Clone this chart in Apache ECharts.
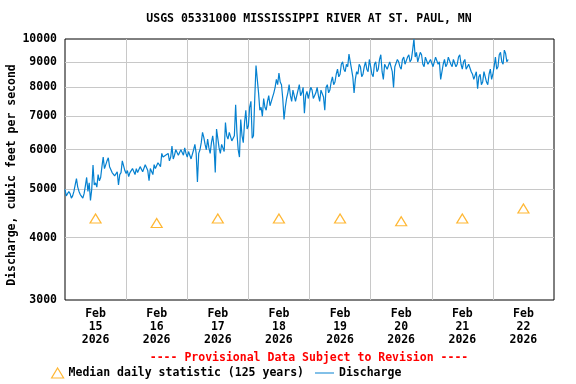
<!DOCTYPE html>
<html><head><meta charset="utf-8">
<script src="https://cdn.jsdelivr.net/npm/echarts@6/dist/echarts.min.js"></script>
<style>html,body{margin:0;padding:0;background:#fff}#c{width:576px;height:384px}</style>
</head><body><div id="c"></div>
<script>
const chartTitle = 'USGS 05331000 MISSISSIPPI RIVER AT ST. PAUL, MN';
const provisionalNote = '---- Provisional Data Subject to Revision ----';
const yAxisName = 'Discharge, cubic feet per second';
const medianName = 'Median daily statistic (125 years)';
const dischargeName = 'Discharge';
const dayMonth = 'Feb';
const dayNumbers = ['15', '16', '17', '18', '19', '20', '21', '22'];
const dayYear = '2026';
// x in hours since 2026-02-15 00:00
const xRangeHours = [0, 192];
const dayGridHours = [24, 48, 72, 96, 120, 144, 168];
const dayLabelHours = [12, 36, 60, 84, 108, 132, 156, 180];
const yRange = [3000, 10000];
const yLabelValues = [3000, 4000, 5000, 6000, 7000, 8000, 9000, 10000];
const yGridValues = [4000, 5000, 6000, 7000, 8000, 9000];
const medianHours = [12, 36, 60, 84, 108, 132, 156, 180];
const medianValues = [4370, 4280, 4370, 4370, 4370, 4315, 4370, 4575];
const dischargeStepHours = 0.5;
const dischargeValues = [
  // Feb 15
  5000, 4850, 4820, 4950, 4900, 4800, 4850, 4950,
  5100, 5250, 5050, 4950, 4880, 4920, 4800, 4900,
  5080, 5280, 4950, 5150, 4750, 5000, 5590, 5100,
  5150, 5050, 5350, 5200, 5280, 5550, 5800, 5500,
  5550, 5700, 5780, 5550, 5500, 5400, 5380, 5320,
  5300, 5420, 5100, 5350, 5400, 5700, 5650, 5450,
  // Feb 16
  5380, 5450, 5300, 5400, 5400, 5500, 5450, 5350,
  5500, 5400, 5380, 5550, 5550, 5420, 5450, 5600,
  5600, 5450, 5200, 5500, 5450, 5350, 5600, 5500,
  5450, 5650, 5650, 5550, 5900, 5800, 5750, 5850,
  5800, 5900, 5700, 5800, 6100, 5750, 5850, 6000,
  6050, 5850, 5800, 6000, 5950, 5850, 6050, 5900,
  // Feb 17
  5800, 5950, 5950, 5750, 5750, 6000, 6150, 5900,
  5170, 5900, 6000, 6200, 6500, 6350, 6150, 6000,
  6300, 6050, 5900, 6200, 6400, 6100, 5400, 6600,
  6550, 6050, 5900, 6150, 6200, 5950, 6800, 6400,
  6300, 6500, 6500, 6250, 6250, 6400, 7380, 6500,
  6000, 5800, 6900, 6400, 6200, 6800, 7200, 6600,
  // Feb 18
  6700, 7300, 7500, 6330, 6400, 7600, 8850, 8300,
  7800, 7200, 7300, 7000, 7600, 7300, 7200, 7500,
  7700, 7350, 7400, 7650, 7800, 8000, 8300, 8100,
  8550, 8200, 8100, 7600, 6900, 7300, 7600, 7800,
  8100, 7700, 7500, 7900, 7900, 7500, 7700, 7900,
  8100, 7700, 7800, 8000, 7100, 7700, 7850, 7600,
  // Feb 19
  7650, 8000, 7900, 7600, 7600, 7800, 8000, 7700,
  7500, 7900, 7900, 7650, 7200, 8000, 8100, 7800,
  7900, 8200, 8400, 8100, 8200, 8500, 8700, 8400,
  8500, 8900, 9000, 8700, 8600, 8900, 8800, 9330,
  9000, 8700, 8400, 7800, 8300, 8600, 8500, 8900,
  8800, 8400, 8500, 8800, 9000, 8700, 8600, 9100,
  // Feb 20
  8800, 8500, 8400, 8900, 9000, 8600, 8700, 9100,
  9300, 8600, 8300, 8900, 8900, 8700, 8700, 9000,
  9000, 8600, 8000, 8800, 8800, 9100, 9000, 8800,
  8700, 9100, 9200, 8900, 8900, 9200, 9300, 9000,
  9100, 9500, 10000, 9200, 9400, 9000, 9000, 9400,
  9300, 8900, 8800, 9200, 9200, 8900, 8900, 9100,
  // Feb 21
  9100, 8800, 8800, 9200, 9200, 8900, 9000, 8300,
  8300, 8900, 9100, 8800, 8900, 9200, 9200, 8900,
  8800, 9100, 9100, 8800, 8900, 9200, 9300, 8900,
  8700, 9000, 9100, 8700, 8700, 8900, 8900, 8600,
  8500, 8300, 8300, 8600, 7950, 8400, 8500, 8100,
  8200, 8600, 8600, 8200, 8100, 8500, 8700, 8300,
  // Feb 22
  8500, 8800, 9200, 8700, 8800, 9300, 9400, 9000,
  8900, 9500, 9350, 9000, 9100
];

const FONT = '"DejaVu Sans Mono", monospace';
const FS = 11.5;
const txt = { fontFamily: FONT, fontSize: FS, fontWeight: 'bold', color: '#000' };
const LINE_COLOR = '#0581d0';
const MEDIAN_COLOR = '#ffa500';
const medianStyle = { color: '#ffffff', borderColor: MEDIAN_COLOR, borderWidth: 1.2 };

const chart = echarts.init(document.getElementById('c'), null, { renderer: 'canvas' });
chart.setOption({
  backgroundColor: '#fff',
  animation: false,
  grid: {
    left: 65, right: 22, top: 39, bottom: 84,
    containLabel: false, outerBoundsMode: 'none',
    show: true, borderColor: '#000', borderWidth: 1, backgroundColor: 'transparent'
  },
  graphic: [
    { type: 'text', x: 309, y: 19, style: { text: chartTitle, align: 'center', verticalAlign: 'middle', font: 'bold ' + FS + 'px ' + FONT, fill: '#000' } },
    { type: 'text', x: 309, y: 358, style: { text: provisionalNote, align: 'center', verticalAlign: 'middle', font: 'bold ' + FS + 'px ' + FONT, fill: '#ff0000' } }
  ],
  xAxis: {
    type: 'value', min: xRangeHours[0], max: xRangeHours[1],
    axisLine: { show: false },
    axisTick: { show: false, customValues: dayGridHours },
    splitLine: { show: true, lineStyle: { color: '#c8c8c8', width: 1 } },
    axisLabel: Object.assign({
      customValues: dayLabelHours, margin: 8, lineHeight: 13,
      formatter: function (v) {
        const i = Math.round((v - 12) / 24);
        return dayMonth + '\n' + dayNumbers[i] + '\n' + dayYear;
      }
    }, txt)
  },
  yAxis: {
    type: 'log', logBase: 10, min: yRange[0], max: yRange[1],
    axisLine: { show: false },
    axisTick: { show: false, customValues: yGridValues },
    splitLine: { show: true, lineStyle: { color: '#c8c8c8', width: 1 } },
    axisLabel: Object.assign({ customValues: yLabelValues, margin: 8, formatter: function (v) { return String(Math.round(v)); } }, txt),
    name: yAxisName, nameLocation: 'middle', nameGap: 47, nameRotate: 90,
    nameMoveOverlap: false,
    nameTextStyle: Object.assign({ padding: [0, 11, 0, 0] }, txt)
  },
  legend: [
    { data: [{ name: medianName, icon: 'triangle', itemStyle: medianStyle }], left: 51, top: 367, itemWidth: 12, itemHeight: 10, textStyle: txt, selectedMode: false, padding: 0 },
    { data: [{ name: dischargeName, icon: 'rect', itemStyle: { color: LINE_COLOR } }], left: 315, top: 367, itemWidth: 19, itemHeight: 1, textStyle: txt, selectedMode: false, padding: 0 }
  ],
  series: [
    {
      name: dischargeName, type: 'line', showSymbol: false, symbol: 'none',
      data: dischargeValues.map((v, i) => [i * dischargeStepHours, v]),
      lineStyle: { color: LINE_COLOR, width: 1.2 }, itemStyle: { color: LINE_COLOR }, z: 3
    },
    {
      name: medianName, type: 'scatter', symbol: 'triangle', symbolSize: [11, 9],
      data: medianHours.map((h, i) => [h, medianValues[i]]),
      itemStyle: medianStyle, z: 4
    }
  ]
});
</script></body></html>
